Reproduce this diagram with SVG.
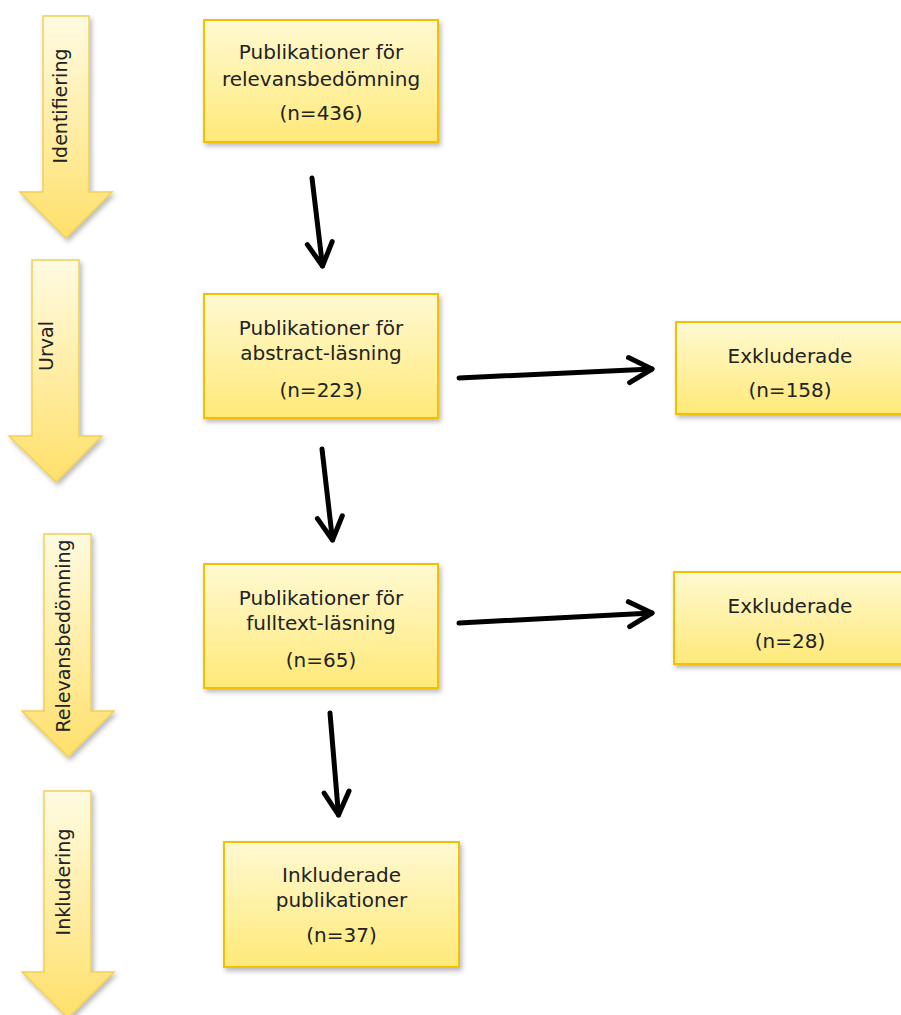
<svg xmlns="http://www.w3.org/2000/svg" width="901" height="1015" viewBox="0 0 901 1015">
<defs>
<linearGradient id="gBox" x1="0" y1="0" x2="0" y2="1">
<stop offset="0" stop-color="#fff9d2"/>
<stop offset="1" stop-color="#ffe978"/>
</linearGradient>
<linearGradient id="gArr" x1="0" y1="0" x2="0" y2="1">
<stop offset="0" stop-color="#fffbe2"/>
<stop offset="1" stop-color="#ffe06a"/>
</linearGradient>
<filter id="sh" x="-10%" y="-10%" width="130%" height="130%">
<feDropShadow dx="2" dy="3" stdDeviation="2.5" flood-color="#000" flood-opacity="0.28"/>
</filter>
<marker id="ah" markerUnits="userSpaceOnUse" markerWidth="40" markerHeight="40" viewBox="-30 -20 40 40" refX="0" refY="0" orient="auto">
<path d="M-23,-12.5 L0,0 L-23,12.5" fill="none" stroke="#000" stroke-width="5" stroke-linecap="round" stroke-linejoin="round"/>
</marker>
</defs>
<style>
.box{fill:url(#gBox);stroke:#f4c000;stroke-width:2;filter:url(#sh)}
.arr{fill:url(#gArr);stroke:#f2cf55;stroke-width:1.5;filter:url(#sh)}
.t{font-family:"DejaVu Sans",Verdana,sans-serif;font-size:20px;fill:#222;text-anchor:middle}
.at{font-family:"DejaVu Sans",Verdana,sans-serif;font-size:19px;fill:#222;text-anchor:middle}
.c{fill:none;stroke:#000;stroke-width:5;stroke-linecap:round;marker-end:url(#ah)}
</style>
<rect width="901" height="1015" fill="#fff"/>

<g id="phase-identifiering">
<path class="arr" d="M43,16 H89 V192 H112 L66,238 L20,192 H43 Z"/>
<text class="at" transform="translate(67,106) rotate(-90)">Identifiering</text>
</g>
<g id="phase-urval">
<path class="arr" d="M32,260 H79 V436 H102 L56,482 L9,436 H32 Z"/>
<text class="at" transform="translate(53,346) rotate(-90)">Urval</text>
</g>
<g id="phase-relevans">
<path class="arr" d="M44,534 H91 V711 H114 L68,757 L22,711 H44 Z"/>
<text class="at" transform="translate(70,636) rotate(-90)">Relevansbedömning</text>
</g>
<g id="phase-inkludering">
<path class="arr" d="M44,791 H91 V972 H114 L68,1018 L22,972 H44 Z"/>
<text class="at" transform="translate(70,882) rotate(-90)">Inkludering</text>
</g>

<g id="box1">
<rect class="box" x="204" y="20" width="234" height="122"/>
<text class="t" x="321" y="59">Publikationer för</text>
<text class="t" x="321" y="86">relevansbedömning</text>
<text class="t" x="321" y="120">(n=436)</text>
</g>
<g id="box2">
<rect class="box" x="204" y="294" width="234" height="124"/>
<text class="t" x="321" y="335">Publikationer för</text>
<text class="t" x="321" y="360">abstract-läsning</text>
<text class="t" x="321" y="397">(n=223)</text>
</g>
<g id="box3">
<rect class="box" x="204" y="564" width="234" height="124"/>
<text class="t" x="321" y="605">Publikationer för</text>
<text class="t" x="321" y="630">fulltext-läsning</text>
<text class="t" x="321" y="667">(n=65)</text>
</g>
<g id="box4">
<rect class="box" x="224" y="842" width="235" height="125"/>
<text class="t" x="341.5" y="882">Inkluderade</text>
<text class="t" x="341.5" y="907">publikationer</text>
<text class="t" x="341.5" y="942">(n=37)</text>
</g>
<g id="excl1">
<rect class="box" x="676" y="322" width="230" height="92"/>
<text class="t" x="790" y="363">Exkluderade</text>
<text class="t" x="790" y="397">(n=158)</text>
</g>
<g id="excl2">
<rect class="box" x="674" y="572" width="232" height="92"/>
<text class="t" x="790" y="613">Exkluderade</text>
<text class="t" x="790" y="648">(n=28)</text>
</g>

<g id="connectors">
<line class="c" x1="312" y1="178" x2="322.5" y2="266"/>
<line class="c" x1="322" y1="449" x2="332.5" y2="540"/>
<line class="c" x1="330" y1="713" x2="338.5" y2="815"/>
<line class="c" x1="459" y1="378" x2="652" y2="369"/>
<line class="c" x1="459" y1="623" x2="652" y2="613"/>
</g>
</svg>
